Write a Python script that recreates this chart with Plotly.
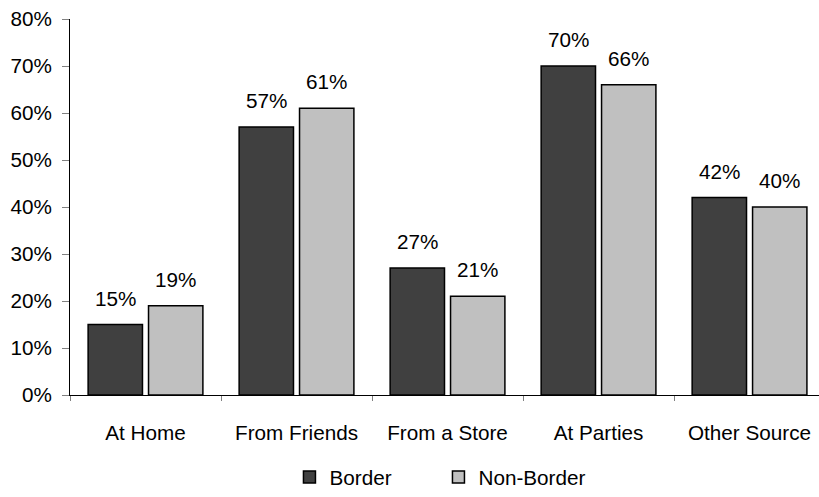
import plotly.graph_objects as go

categories = ["At Home", "From Friends", "From a Store", "At Parties", "Other Source"]
border = [15, 57, 27, 70, 42]
non_border = [19, 61, 21, 66, 40]
y_ticks = [0, 10, 20, 30, 40, 50, 60, 70, 80]
y_tick_labels = [f"{v}%" for v in y_ticks]

FONT = "Arial, 'Liberation Sans', sans-serif"
FS = 20.7
BAR_W = 0.36
series = [
    ("Border", border, "#404040", -0.38),
    ("Non-Border", non_border, "#C0C0C0", 0.02),
]

fig = go.Figure()
for name, vals, color, off in series:
    fig.add_trace(go.Bar(
        name=name, x=categories, y=vals,
        width=BAR_W, offset=off,
        marker=dict(color=color, line=dict(color="#000000", width=1.5)),
        hoverinfo="skip",
    ))
    # value labels centred above each bar
    for i, v in enumerate(vals):
        fig.add_annotation(
            x=i + off + BAR_W / 2, y=v, xref="x", yref="y",
            text=f"{v}%", showarrow=False,
            yanchor="middle", yshift=26.5,
            font=dict(family=FONT, size=FS, color="#000000"),
        )

fig.update_layout(
    width=819, height=497,
    margin=dict(l=70, r=0, t=19, b=94),
    paper_bgcolor="#ffffff", plot_bgcolor="#ffffff",
    barmode="overlay",
    font=dict(family=FONT, size=FS, color="#000000"),
    showlegend=True,
    legend=dict(
        orientation="h", x=0.293, xanchor="left", y=-0.219, yanchor="middle",
        font=dict(family=FONT, size=FS, color="#000000"),
        entrywidth=104, entrywidthmode="pixels",
        itemclick=False, itemdoubleclick=False,
    ),
    xaxis=dict(
        type="category", range=[-0.5, 4.46],
        showline=True, linecolor="#000000", linewidth=1,
        ticks="outside", tickson="boundaries", ticklen=5, tickcolor="#808080",
        showgrid=False, zeroline=False, ticklabelstandoff=19,
        tickfont=dict(family=FONT, size=FS, color="#000000"),
    ),
    yaxis=dict(
        range=[0, 80], tickmode="array", tickvals=y_ticks, ticktext=y_tick_labels,
        showline=True, linecolor="#000000", linewidth=1,
        ticks="outside", ticklen=7, tickcolor="#808080",
        showgrid=False, zeroline=False, ticklabelstandoff=6,
        tickfont=dict(family=FONT, size=FS, color="#000000"),
    ),
)

fig.write_html("out.html")
